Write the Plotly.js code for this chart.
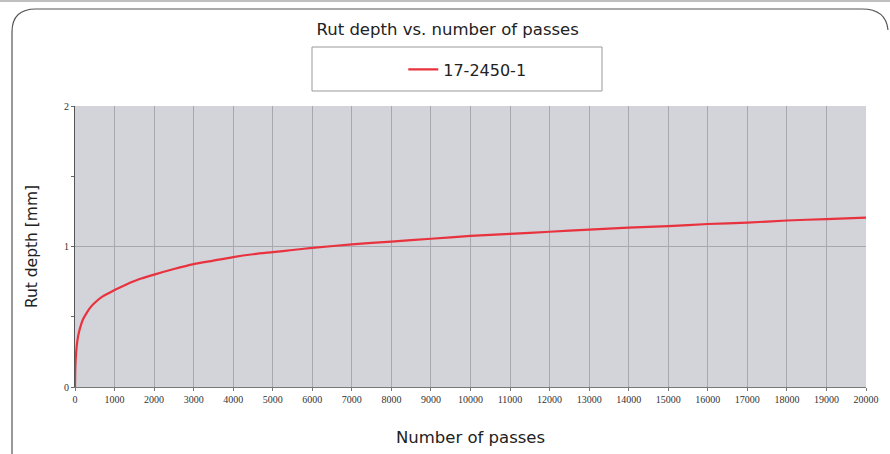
<!DOCTYPE html>
<html><head><meta charset="utf-8">
<script src="https://cdn.plot.ly/plotly-3.0.1.min.js"></script>
<style>body{margin:0;background:#fff}#c{width:890px;height:454px}</style>
</head><body><div id="c"></div>
<script>
const passes = [0, 10, 30, 60, 100, 150, 200, 300, 400, 500, 700, 1000, 1300, 1600, 2000, 2500, 3000, 3500, 4000, 4500, 5000, 5500, 6000, 7000, 8000, 9000, 10000, 11000, 12000, 13000, 14000, 15000, 16000, 17000, 18000, 19000, 20000];
const rutDepth = [0, 0.15, 0.25, 0.33, 0.39, 0.44, 0.48, 0.53, 0.57, 0.60, 0.645, 0.69, 0.73, 0.765, 0.80, 0.84, 0.875, 0.90, 0.925, 0.945, 0.96, 0.975, 0.99, 1.015, 1.035, 1.055, 1.075, 1.09, 1.105, 1.12, 1.135, 1.145, 1.16, 1.17, 1.185, 1.195, 1.205];
const seriesName = '17-2450-1';
const xTicks = [0,1000,2000,3000,4000,5000,6000,7000,8000,9000,10000,11000,12000,13000,14000,15000,16000,17000,18000,19000,20000];
const yTicks = [0,1,2];

const trace = {x: passes, y: rutDepth, type:'scatter', mode:'lines', name: seriesName,
  line:{color:'#e8323e', width:2.2, shape:'spline', smoothing:0.8}};

const layout = {
  width:890, height:454,
  margin:{l:75, r:24, t:106, b:67},
  paper_bgcolor:'#ffffff', plot_bgcolor:'#d3d3da',
  title:{text:'Rut depth vs. number of passes', x:0.503, xanchor:'center', y:0.935, yanchor:'middle',
    font:{family:'DejaVu Sans', size:16.5, color:'#222'}},
  showlegend:true,
  legend:{x:0.415, xanchor:'left', y:1.13, yanchor:'middle', bgcolor:'rgba(0,0,0,0)', borderwidth:0,
    font:{family:'DejaVu Sans', size:16, color:'#222'}},
  xaxis:{range:[0,20000], tickvals:xTicks, ticktext:xTicks.map(String), showgrid:true, gridcolor:'#a8a8b0', gridwidth:1,
    zeroline:false, showline:true, linecolor:'#777', linewidth:1, ticks:'outside', ticklen:3, tickcolor:'#777',
    tickfont:{family:'Liberation Serif', size:10, color:'#333'},
    title:{text:'Number of passes', standoff:27, font:{family:'DejaVu Sans', size:16.5, color:'#222'}}},
  yaxis:{range:[0,2], tickvals:yTicks, showgrid:true, gridcolor:'#a8a8b0', gridwidth:1,
    zeroline:false, showline:true, linecolor:'#555', linewidth:1, ticks:'outside', ticklen:3, tickcolor:'#666',
    minor:{dtick:0.5, ticks:'outside', ticklen:3, tickcolor:'#666', showgrid:false},
    tickfont:{family:'Liberation Serif', size:10, color:'#333'},
    title:{text:'Rut depth [mm]', standoff:22, font:{family:'DejaVu Sans', size:15.5, color:'#222'}}},
  shapes:[
    {type:'path', xref:'paper', yref:'paper', layer:'below',
     path:'', line:{color:'#555', width:1.2}},
    {type:'rect', xref:'paper', yref:'paper', x0:(312-75)/791, x1:(602-75)/791, y0:(387-91)/281, y1:(387-47)/281,
     line:{color:'#999', width:1}, fillcolor:'rgba(0,0,0,0)'},
    {type:'line', xref:'paper', yref:'paper', x0:-75/791, x1:(890-75)/791, y0:(387-1)/281, y1:(387-1)/281,
     line:{color:'#aaa', width:1.5}}
  ]
};
function px(x){return (x-75)/791;} function py(y){return (387-y)/281;}
layout.shapes[0].path = 'M '+px(12)+','+py(460)+' L '+px(12)+','+py(32)+' Q '+px(12)+','+py(9)+' '+px(36)+','+py(9)+
  ' L '+px(862)+','+py(9)+' Q '+px(886)+','+py(9)+' '+px(888)+','+py(30);
Plotly.newPlot('c',[trace],layout,{displayModeBar:false,staticPlot:true});
</script></body></html>
